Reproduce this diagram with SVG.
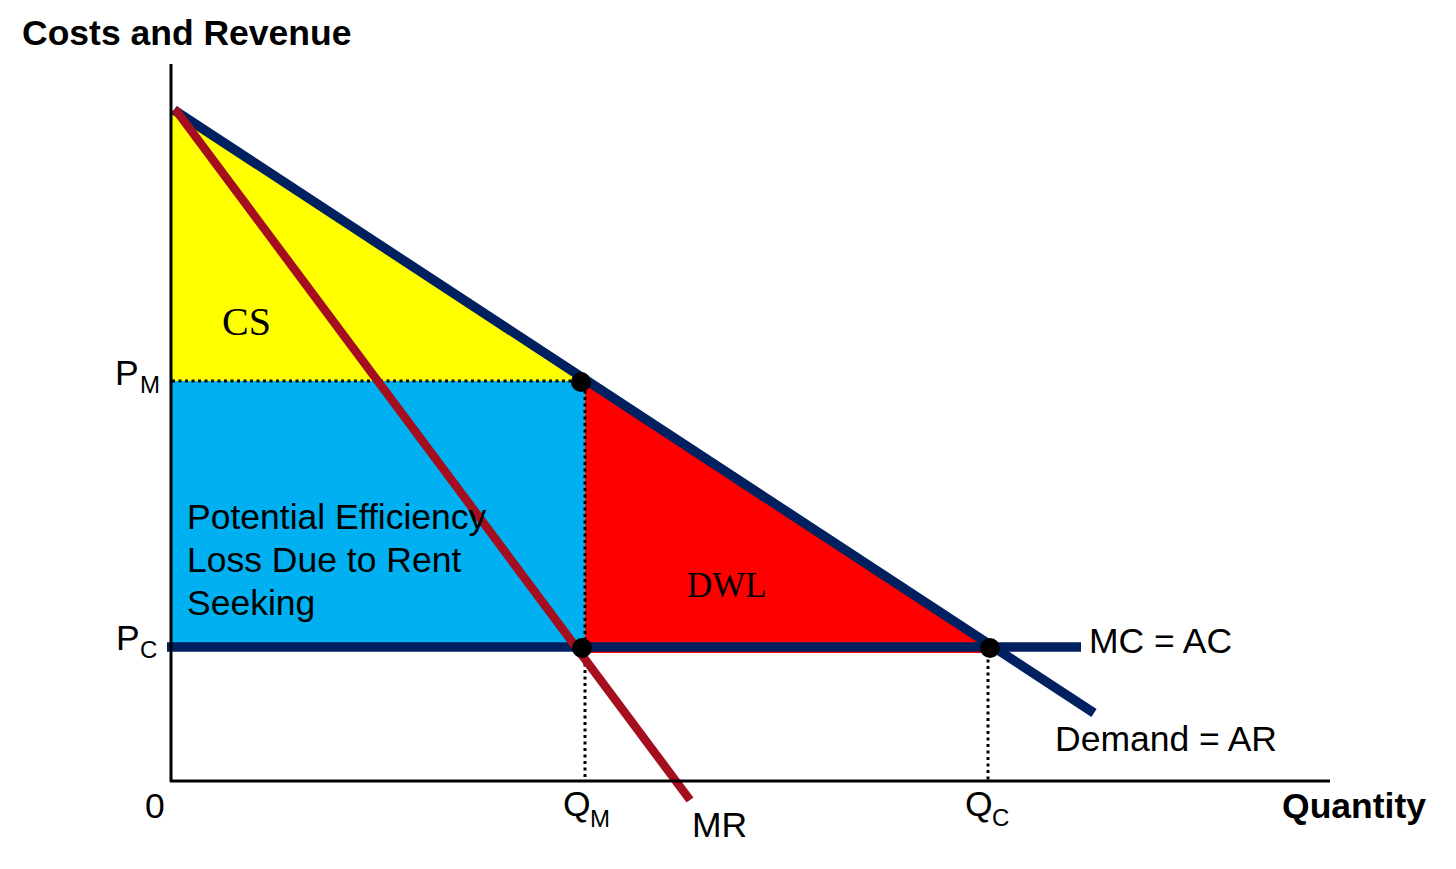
<svg xmlns="http://www.w3.org/2000/svg" width="1456" height="869" viewBox="0 0 1456 869">
<style>
.lbl{font-family:"Liberation Sans",Arial,sans-serif;font-size:35.5px;fill:#000}
.sub{font-family:"Liberation Sans",Arial,sans-serif;font-size:24px;fill:#000}
.bold{font-family:"Liberation Sans",Arial,sans-serif;font-size:35.5px;font-weight:bold;fill:#000}
.serif{font-family:"Liberation Serif","Times New Roman",serif;fill:#000}
.navy{stroke:#002060;stroke-width:9.5;fill:none}
.mr{stroke:#A50E1E;stroke-width:8.5;fill:none}
.dot{stroke:#000;stroke-width:3;stroke-dasharray:3 3.5;fill:none}
.axis{stroke:#000;stroke-width:3;fill:none}
</style>
<rect width="1456" height="869" fill="#fff"/>
<g id="areas">
<polygon id="cs-area" points="172,113 582,381 172,381" fill="#FFFF00"/>
<rect id="rent-area" x="172" y="381" width="413" height="267" fill="#00B0F0"/>
<polygon id="dwl-area" points="585,381 987,648 987,653 585,653" fill="#FF0000"/>
</g>
<g id="connectors">
<line class="dot" x1="172" y1="381" x2="582" y2="381"/>
<line class="dot" x1="585" y1="384" x2="585" y2="780"/>
<line class="dot" x1="988" y1="653" x2="988" y2="780"/>
<line id="mc" class="navy" x1="167" y1="647" x2="1081" y2="647"/>
<line id="demand" class="navy" x1="174" y1="110" x2="1094" y2="713"/>
<line id="mr" class="mr" x1="175" y1="109" x2="690" y2="800"/>
<line class="axis" x1="171" y1="64" x2="171" y2="782"/>
<line class="axis" x1="170" y1="781" x2="1330" y2="781"/>
</g>
<g id="points">
<circle cx="581" cy="382" r="10" fill="#000"/>
<circle cx="582" cy="648" r="10" fill="#000"/>
<circle cx="990" cy="648" r="10" fill="#000"/>
</g>
<g id="labels">
<text class="bold" x="22" y="45">Costs and Revenue</text>
<text class="bold" x="1426" y="818" text-anchor="end">Quantity</text>
<text class="lbl" x="145" y="818">0</text>
<text class="lbl" x="115" y="385">P</text><text class="sub" x="140" y="393">M</text>
<text class="lbl" x="116" y="650">P</text><text class="sub" x="140" y="658">C</text>
<text class="lbl" x="563" y="816">Q</text><text class="sub" x="590" y="827">M</text>
<text class="lbl" x="965" y="816">Q</text><text class="sub" x="992" y="826">C</text>
<text class="lbl" x="692" y="837">MR</text>
<text class="lbl" x="1089" y="653">MC = AC</text>
<text class="lbl" x="1055" y="751">Demand = AR</text>
<text class="serif" x="222" y="335" font-size="40">CS</text>
<text class="serif" x="687" y="597" font-size="35">DWL</text>
<text class="lbl" x="187" y="529">Potential Efficiency</text>
<text class="lbl" x="187" y="572">Loss Due to Rent</text>
<text class="lbl" x="187" y="615">Seeking</text>
</g>
</svg>
